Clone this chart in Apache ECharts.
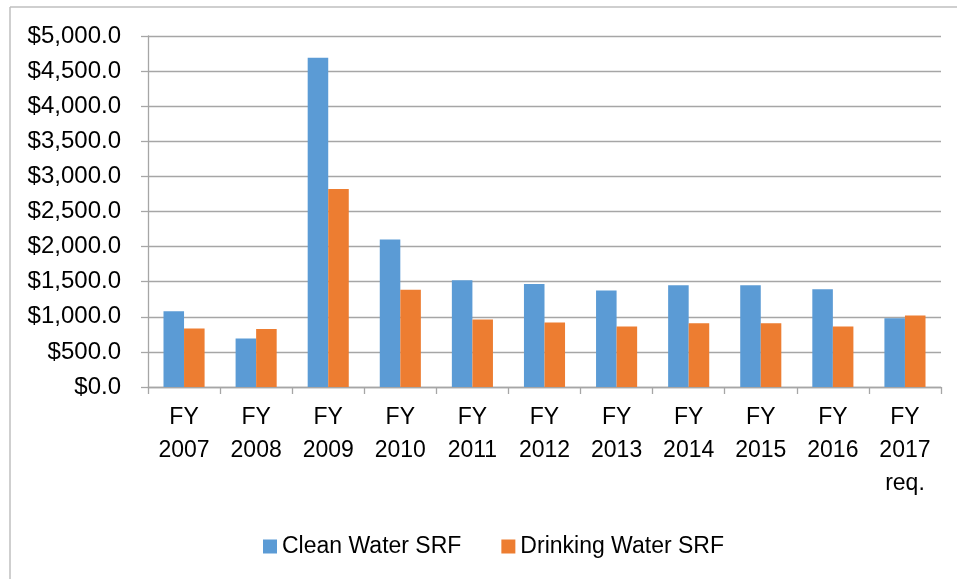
<!DOCTYPE html>
<html>
<head>
<meta charset="utf-8">
<script src="https://cdn.jsdelivr.net/npm/echarts@6/dist/echarts.min.js"></script>
<style>
  html, body { margin: 0; padding: 0; background: #fff; }
  #chart { width: 957px; height: 579px; }
</style>
</head>
<body>
<div id="chart"></div>
<script>
var categories = ['FY\n2007', 'FY\n2008', 'FY\n2009', 'FY\n2010', 'FY\n2011', 'FY\n2012',
    'FY\n2013', 'FY\n2014', 'FY\n2015', 'FY\n2016', 'FY\n2017\nreq.'];
var cleanWater = [1080, 690, 4690, 2100, 1522, 1466, 1376, 1449, 1449, 1394, 979];
var drinkingWater = [832, 827, 2822, 1387, 963, 918, 861, 907, 907, 863, 1020];

var myChart = echarts.init(document.getElementById('chart'));
var font = 'Liberation Sans';
var gridColor = '#a6a6a6';

var option = {
    animation: false,
    textStyle: { fontFamily: font },
    graphic: [
        { type: 'line', shape: { x1: 10, y1: 7, x2: 957, y2: 7 }, style: { stroke: '#bfbfbf', lineWidth: 1.5 } },
        { type: 'line', shape: { x1: 10, y1: 7, x2: 10, y2: 579 }, style: { stroke: '#bfbfbf', lineWidth: 1.5 } }
    ],
    grid: { left: 148, right: 16, top: 36, bottom: 192 },
    legend: {
        left: 258,
        top: 530,
        itemWidth: 14,
        itemHeight: 14,
        itemGap: 40,
        icon: 'rect',
        textStyle: { fontSize: 23, color: '#000', fontFamily: font }
    },
    xAxis: {
        type: 'category',
        data: categories,
        axisLine: { lineStyle: { color: gridColor, width: 1.3 } },
        axisTick: { show: true, length: 7, lineStyle: { color: gridColor, width: 1.3 } },
        axisLabel: {
            color: '#000',
            fontSize: 23,
            lineHeight: 33,
            margin: 14,
            interval: 0
        }
    },
    yAxis: {
        type: 'value',
        min: 0,
        max: 5000,
        interval: 500,
        axisLine: { show: true, lineStyle: { color: gridColor, width: 1.3 } },
        axisTick: { show: true, length: 7, lineStyle: { color: gridColor, width: 1.3 } },
        splitLine: { lineStyle: { color: gridColor, width: 1.3 } },
        axisLabel: {
            color: '#000',
            fontSize: 24,
            margin: 27,
            formatter: function (v) {
                return '$' + v.toLocaleString('en-US', { minimumFractionDigits: 1, maximumFractionDigits: 1 });
            }
        }
    },
    series: [
        {
            name: 'Clean Water SRF',
            type: 'bar',
            data: cleanWater,
            barGap: '0%',
            barCategoryGap: '43%',
            itemStyle: { color: '#5b9bd5' }
        },
        {
            name: 'Drinking Water SRF',
            type: 'bar',
            data: drinkingWater,
            itemStyle: { color: '#ed7d31' }
        }
    ]
};

myChart.setOption(option);
</script>
</body>
</html>
